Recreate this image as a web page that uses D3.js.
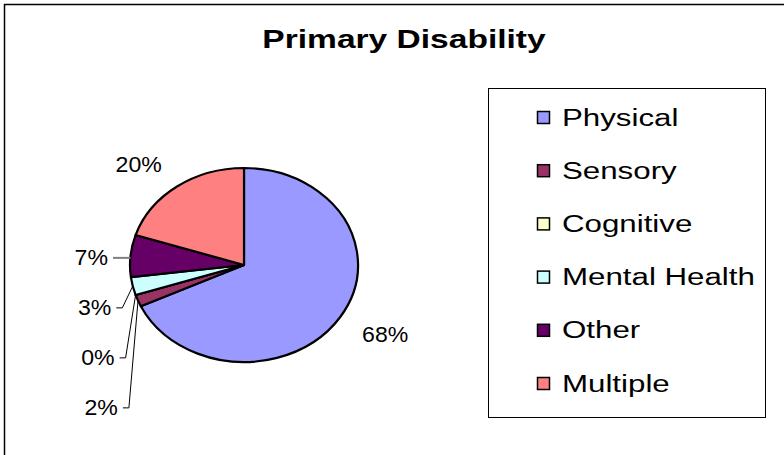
<!DOCTYPE html>
<html>
<head>
<meta charset="utf-8">
<script src="https://cdnjs.cloudflare.com/ajax/libs/d3/7.8.5/d3.min.js"></script>
<style>
  body { margin: 0; background: #fff; }
  svg text { font-family: "Liberation Sans", Arial, sans-serif; fill: #000; }
</style>
</head>
<body>
<div id="plotarea"></div>
<script>
// chart data
var categories = ["Physical", "Sensory", "Cognitive", "Mental Health", "Other", "Multiple"];
var percents = [68, 2, 0, 3, 7, 20];
var sliceColors = ["#9999ff", "#993366", "#ffffcc", "#ccffff", "#660066", "#ff8080"];
var chartTitle = "Primary Disability";

var width = 784, height = 455;
var cx = 244, cy = 265, rx = 114, ry = 97;

var svg = d3.select("#plotarea").append("svg")
    .attr("width", width)
    .attr("height", height);

// outer chart frame (runs off the right and bottom edges)
svg.append("rect")
    .attr("x", 4.5).attr("y", 4.5)
    .attr("width", 820).attr("height", 520)
    .attr("fill", "#fff")
    .attr("stroke", "#000")
    .attr("stroke-width", 1.5);

// title, stretched like the original picture
svg.append("text")
    .attr("transform", "translate(404,48) scale(1.29,1)")
    .attr("text-anchor", "middle")
    .style("font-size", "26px")
    .style("font-weight", "bold")
    .text(chartTitle);

var data = categories.map(function(c, i) {
  return { label: c, value: percents[i], color: sliceColors[i] };
});

var pie = d3.pie().sort(null).value(function(d) { return d.value; });
var arcs = pie(data);

// draw pie with radius ry then stretch horizontally into an ellipse
var arc = d3.arc().innerRadius(0).outerRadius(ry);
var pieG = svg.append("g")
    .attr("transform", "translate(" + cx + "," + cy + ") scale(" + (rx / ry) + ",1)");

pieG.selectAll("path")
    .data(arcs)
    .enter().append("path")
    .attr("d", arc)
    .attr("fill", function(d) { return d.data.color; })
    .attr("stroke", "#000")
    .attr("stroke-width", 2.2)
    .attr("stroke-linejoin", "round")
    .attr("vector-effect", "non-scaling-stroke");

// point on the ellipse edge for a given angle
function edge(a) {
  return [cx + rx * Math.sin(a), cy - ry * Math.cos(a)];
}

var labelG = svg.append("g");
var fontPx = 22, labelW = 46, labelH = 21;

// small slices on the left are stacked downward with leader lines
var stackY = null;
var leftSmall = arcs.filter(function(d) {
  var mid = (d.startAngle + d.endAngle) / 2;
  return d.data.value < 10 && Math.sin(mid) < 0;
}).sort(function(a, b) {
  return edge((a.startAngle + a.endAngle) / 2)[1] - edge((b.startAngle + b.endAngle) / 2)[1];
});

leftSmall.forEach(function(d, i) {
  var mid = (d.startAngle + d.endAngle) / 2;
  var p = edge(mid);
  var ly = stackY === null ? p[1] + 2 : Math.max(p[1], stackY + 50);
  stackY = ly;
  var tx = 108 + i * 3.3;
  labelG.append("text")
      .attr("transform", "translate(" + tx + "," + (ly + 7.5) + ") scale(1.05,1)")
      .attr("text-anchor", "end")
      .style("font-size", fontPx + "px")
      .text(Math.round(d.data.value) + "%");
  var flat = Math.abs(p[1] - ly) < 6;
  var pts = flat
      ? [[tx + 5, ly], [p[0], ly]]
      : [[tx + 5, ly], [tx + 11, ly], p];
  labelG.append("polyline")
      .attr("points", pts.map(function(q) { return q.join(","); }).join(" "))
      .attr("fill", "none")
      .attr("stroke", flat ? "#808080" : "#000")
      .attr("stroke-width", flat ? 2 : 1);
});

// the other labels sit just outside the edge
arcs.filter(function(d) { return leftSmall.indexOf(d) < 0; }).forEach(function(d) {
  var mid = (d.startAngle + d.endAngle) / 2;
  var s = Math.sin(mid), c = Math.cos(mid);
  var p = edge(mid);
  var x = p[0] + s * 26 + Math.sign(s) * labelW / 2;
  var y = p[1] - c * 14 - Math.sign(c) * labelH / 2;
  labelG.append("text")
      .attr("transform", "translate(" + x + "," + (y + 7.5) + ") scale(1.05,1)")
      .attr("text-anchor", "middle")
      .style("font-size", fontPx + "px")
      .text(Math.round(d.data.value) + "%");
});

// legend
var legX = 488.5, legY = 88.5, legW = 277, legH = 329;
svg.append("rect")
    .attr("x", legX).attr("y", legY)
    .attr("width", legW).attr("height", legH)
    .attr("fill", "#fff")
    .attr("stroke", "#000")
    .attr("stroke-width", 1);

var rowY = d3.scalePoint()
    .domain(categories)
    .range([117, 383]);

var leg = svg.selectAll(".leg")
    .data(data)
    .enter().append("g")
    .attr("class", "leg")
    .attr("transform", function(d) { return "translate(0," + rowY(d.label) + ")"; });

leg.append("rect")
    .attr("x", 537.5).attr("y", -5.5)
    .attr("width", 12).attr("height", 12)
    .attr("fill", function(d) { return d.color; })
    .attr("stroke", "#000")
    .attr("stroke-width", 1.5);

leg.append("text")
    .attr("transform", "translate(562,8.5) scale(1.36,1)")
    .style("font-size", "23px")
    .text(function(d) { return d.label; });
</script>
</body>
</html>
